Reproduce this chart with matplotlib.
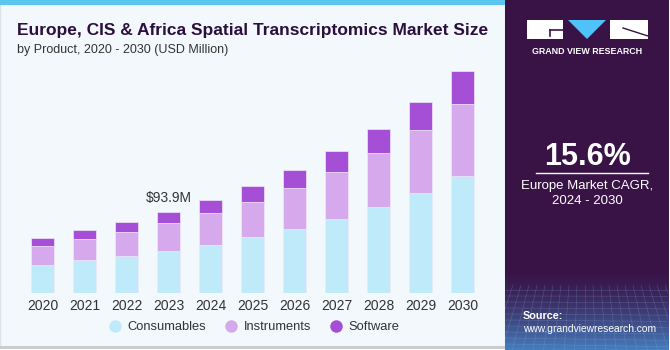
import matplotlib
matplotlib.use('Agg')
import matplotlib.pyplot as plt
import numpy as np
from matplotlib import rcParams
from matplotlib.patches import Rectangle, Polygon
from matplotlib.lines import Line2D

rcParams['font.family'] = ['Liberation Sans', 'DejaVu Sans']

years = ['2020', '2021', '2022', '2023', '2024', '2025', '2026', '2027', '2028', '2029', '2030']
consumables = [32.7, 37.8, 42.7, 48.9, 55.8, 64.3, 74.3, 85.8, 99.7, 115.8, 135.1]
instruments = [21.9, 24.9, 28.1, 31.6, 37.0, 41.1, 47.4, 54.3, 62.0, 72.1, 83.5]
software = [8.9, 10.0, 11.5, 13.4, 14.7, 18.1, 20.4, 24.3, 28.1, 32.3, 37.8]
series_names = ['Consumables', 'Instruments', 'Software']
colors = ['#BEEAF9', '#D6A9ED', '#A54ED6']
note_year = '2023'
note_text = '$93.9M'
cagr = '15.6%'

W, H = 670, 350
fig = plt.figure(figsize=(W / 100, H / 100), dpi=100)
fig.patch.set_facecolor('white')

def px(x, y):
    # pixel coords (top-left origin) -> figure fraction
    return x / W, 1 - y / H

# left panel background
bg = fig.add_axes([0, 0, 1, 1], zorder=0)
bg.set_xlim(0, W)
bg.set_ylim(H, 0)
bg.axis('off')
bg.add_patch(Rectangle((0, 0), 505, 347, facecolor='#F3F8FC', edgecolor='#DDE3EA', lw=1))
bg.add_patch(Rectangle((0, 0), 505, 5, facecolor='#5BC6EF', edgecolor='none'))
bg.add_patch(Rectangle((0, 346), 505, 3, facecolor='#C8CDD2', edgecolor='none'))

# right panel with gradient bottom
rp = fig.add_axes([px(505, 0)[0], 0, (668 - 505) / W, 1], zorder=1)
rp.axis('off')
grad = np.linspace(0, 1, 350)
top = np.array([0x39, 0x12, 0x46]) / 255
bot = np.array([0x45, 0x7E, 0xBE]) / 255
t = np.clip((grad - 0.76) / 0.24, 0, 1) ** 1.6
img = top[None, :] * (1 - t[:, None]) + bot[None, :] * t[:, None]
img = np.repeat(img[:, None, :], 10, axis=1)
rp.imshow(img, aspect='auto', extent=[0, 163, 350, 0])
rp.set_xlim(0, 163)
rp.set_ylim(350, 0)
for yy in np.arange(290, 350, 6):
    rp.plot([0, 163], [yy, yy + (yy - 290) * 0.05], color='#8FB6E0', lw=0.4, alpha=0.3)
for xx in np.arange(0, 170, 8):
    rp.plot([xx, xx + (xx - 80) * 0.3], [285, 350], color='#8FB6E0', lw=0.4, alpha=0.3)

# logo
rp.add_patch(Rectangle((22, 20), 36, 19, facecolor='white', edgecolor='none'))
rp.add_patch(Rectangle((105, 20), 38, 19, facecolor='white', edgecolor='none'))
rp.add_patch(Polygon([[63, 20], [101, 20], [82, 39]], closed=True, facecolor='#4FC3F7', edgecolor='none'))
rp.plot([45, 58], [30, 30], color='#391246', lw=1.2)
rp.plot([45, 45], [30, 36], color='#391246', lw=1.2)
rp.plot([118, 143], [28, 36], color='#391246', lw=1.0)
rp.text(82.5, 51, 'GRAND VIEW RESEARCH', color='white', fontsize=6.4, fontweight='bold',
        ha='center', va='center')
rp.text(82.5, 157, cagr, color='white', fontsize=22, fontweight='bold', ha='center', va='center')
rp.plot([31, 143], [173, 173], color='white', lw=1)
rp.text(82.5, 186, 'Europe Market CAGR,', color='white', fontsize=9.5, ha='center', va='center')
rp.text(82.5, 201, '2024 - 2030', color='white', fontsize=9.5, ha='center', va='center')
rp.text(18, 316, 'Source:', color='white', fontsize=7.8, fontweight='bold', ha='left', va='center')
rp.text(18, 329, 'www.grandviewresearch.com', color='white', fontsize=7.4, ha='left', va='center')

# titles
title = fig.text(*px(17, 30), 'Europe, CIS & Africa Spatial Transcriptomics Market Size',
                 fontsize=12.5, fontweight='bold', color='#2B0F3D', ha='left', va='center')
fig.canvas.draw()
tw = title.get_window_extent().width
title.set_fontsize(12.5 * 473 / tw)
fig.text(*px(17, 50), 'by Product, 2020 - 2030 (USD Million)', fontsize=9,
         color='#333333', ha='left', va='center')

# main chart
left, right, base, topy = 20, 485, 293, 65
ax = fig.add_axes([left / W, (H - base) / H, (right - left) / W, (base - topy) / H], zorder=2)
ax.patch.set_alpha(0)
x = np.arange(len(years))
bottom = np.zeros(len(years))
for vals, c, name in zip([consumables, instruments, software], colors, series_names):
    ax.bar(x, vals, 0.55, bottom=bottom, color=c, edgecolor='#F0E6F8', linewidth=0.5, label=name)
    bottom += np.array(vals)
ax.set_xlim(-0.536, 10.53)
ax.set_ylim(0, (base - topy) * 93.9 / 81.3)
for s in ax.spines.values():
    s.set_visible(False)
ax.set_yticks([])
ax.set_xticks(x)
ax.set_xticklabels(years, fontsize=10, color='#333333')
ax.tick_params(axis='x', length=0, pad=4)
i = years.index(note_year)
ax.annotate(note_text, (x[i], bottom[i]), xytext=(0, 5), textcoords='offset points',
            ha='center', va='bottom', fontsize=10, color='#333333')

handles = [Line2D([], [], marker='o', linestyle='none', markersize=9, markerfacecolor=c,
                  markeredgecolor='none') for c in colors]
fig.legend(handles, series_names, loc='center', bbox_to_anchor=px(254, 327), ncol=3,
           frameon=False, fontsize=9.3, handlelength=1.0, handletextpad=0.45, columnspacing=1.45,
           labelcolor='#333333')

fig.savefig('out.png', dpi=100)
